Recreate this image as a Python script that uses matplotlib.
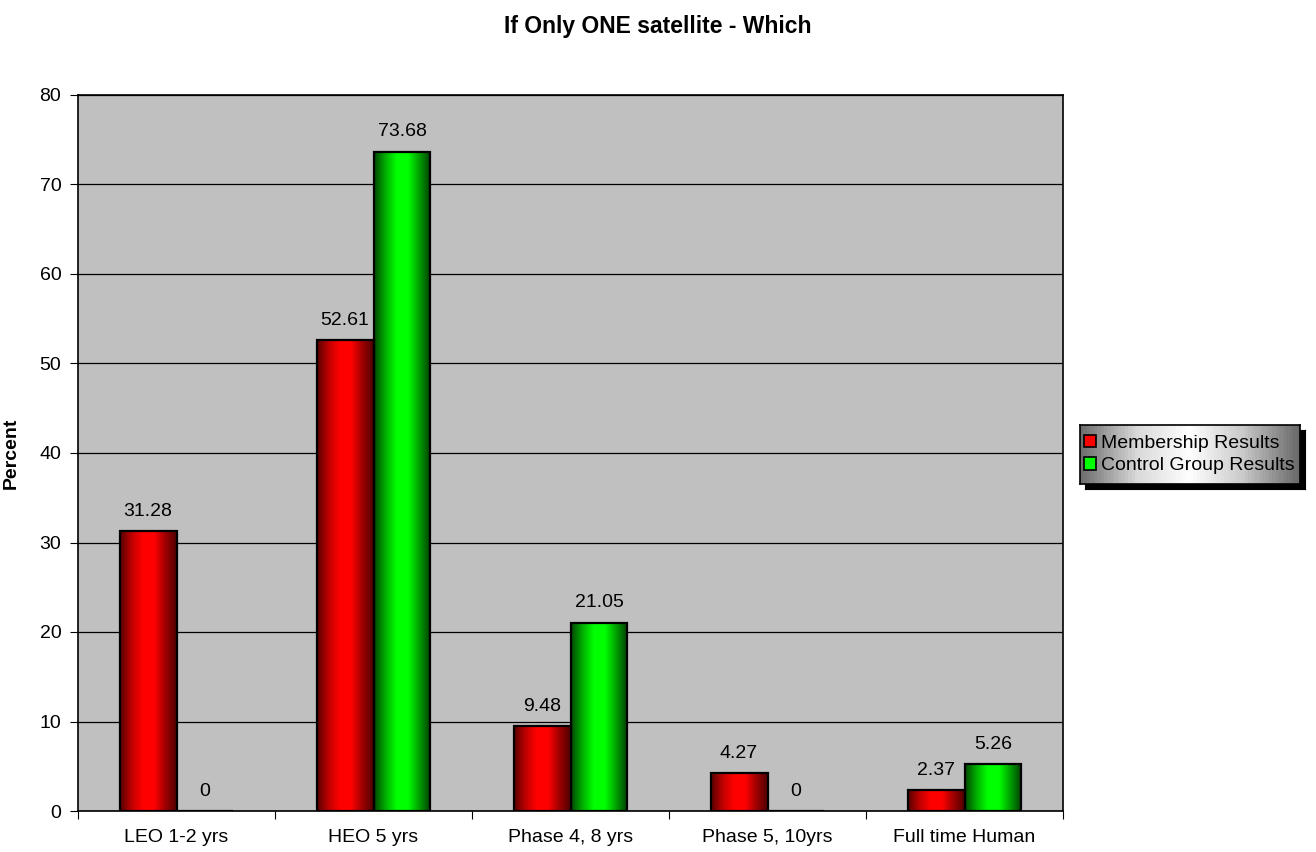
import numpy as np
import matplotlib.pyplot as plt
from matplotlib.colors import LinearSegmentedColormap
from matplotlib.patches import Rectangle

plt.rcParams['font.family'] = ['Liberation Sans', 'DejaVu Sans']

categories = ['LEO 1-2 yrs', 'HEO 5 yrs', 'Phase 4, 8 yrs', 'Phase 5, 10yrs', 'Full time Human']
membership = [31.28, 52.61, 9.48, 4.27, 2.37]
control = [0, 73.68, 21.05, 0, 5.26]
series_names = ['Membership Results', 'Control Group Results']

red_cmap = LinearSegmentedColormap.from_list('r', ['#5a0000', '#c00000', '#ff0000', '#ff0000', '#a00000', '#500000'])
green_cmap = LinearSegmentedColormap.from_list('g', ['#004a00', '#00b000', '#00ff00', '#00ff00', '#00a000', '#004000'])
grad = np.linspace(0, 1, 64).reshape(1, -1)

fig = plt.figure(figsize=(13.16, 8.52), dpi=100)
ax = fig.add_axes([78 / 1316, 1 - 811 / 852, (1063 - 78) / 1316, (811 - 95) / 852])
ax.set_facecolor('#c0c0c0')

x = np.arange(len(categories))
w = 0.289


def draw_bars(xs, vals, cmap, label):
    bars = ax.bar(xs, vals, w, align='edge', facecolor='none', edgecolor='black',
                  linewidth=1.6, zorder=3, label=label)
    for b in bars:
        x0, y0 = b.get_x(), b.get_y()
        ax.imshow(grad, cmap=cmap, aspect='auto', zorder=2.5,
                  extent=(x0, x0 + b.get_width(), y0, y0 + b.get_height()))
    for b, v in zip(bars, vals):
        ax.annotate(f'{v:g}', (b.get_x() + b.get_width() / 2, v), xytext=(0, 8),
                    textcoords='offset points', ha='center', va='bottom', fontsize=14)
    return bars


draw_bars(x + 0.5 - w, membership, red_cmap, series_names[0])
draw_bars(x + 0.5, control, green_cmap, series_names[1])

ax.set_xlim(0, len(categories))
ax.set_ylim(0, 80)
ax.set_yticks(range(0, 81, 10))
ax.yaxis.grid(True, color='black', linewidth=0.9, zorder=1)
ax.set_axisbelow(True)
ax.set_xticks(range(len(categories) + 1))
ax.set_xticklabels([])
ax.set_xticks(x + 0.5, minor=True)
ax.set_xticklabels(categories, minor=True, fontsize=14)
ax.tick_params(axis='x', which='minor', length=0, pad=13)
ax.tick_params(axis='x', which='major', length=6, direction='out')
ax.tick_params(axis='y', length=6, direction='out', labelsize=14, pad=6)
for s in ax.spines.values():
    s.set_color('black')
    s.set_linewidth(1.2)
ax.set_ylabel('Percent', fontsize=14, fontweight='bold', labelpad=14)

fig.suptitle('If Only ONE satellite - Which', fontsize=16.5, fontweight='bold', y=1 - 26 / 852, va='center')

# legend box with horizontal gradient and shadow
lx, ly, lw, lh = 1080 / 1316, 1 - 484 / 852, 220 / 1316, 59 / 852
shadow = fig.add_axes([lx + 5 / 1316, ly - 5 / 852, lw, lh], zorder=1)
shadow.set_facecolor('black')
shadow.set_xticks([])
shadow.set_yticks([])
lax = fig.add_axes([lx, ly, lw, lh], zorder=2)
leg_cmap = LinearSegmentedColormap.from_list('l', ['#6e6e6e', '#d8d8d8', '#ffffff', '#c8c8c8', '#6a6a6a'])
lax.imshow(grad, cmap=leg_cmap, aspect='auto', extent=(0, 1, 0, 1))
lax.set_xlim(0, 1)
lax.set_ylim(0, 1)
lax.set_xticks([])
lax.set_yticks([])
for s in lax.spines.values():
    s.set_linewidth(1.2)
handles = [Rectangle((0, 0), 1, 1, facecolor='#ff0000', edgecolor='black', lw=1.2),
           Rectangle((0, 0), 1, 1, facecolor='#00ff00', edgecolor='black', lw=1.2)]
lax.legend(handles, series_names, loc='center left', frameon=False, fontsize=14,
           handlelength=0.6, handleheight=0.6, handletextpad=0.3, borderaxespad=0.0,
           borderpad=0.2, labelspacing=0.3)

fig.savefig('out.png', dpi=100)
